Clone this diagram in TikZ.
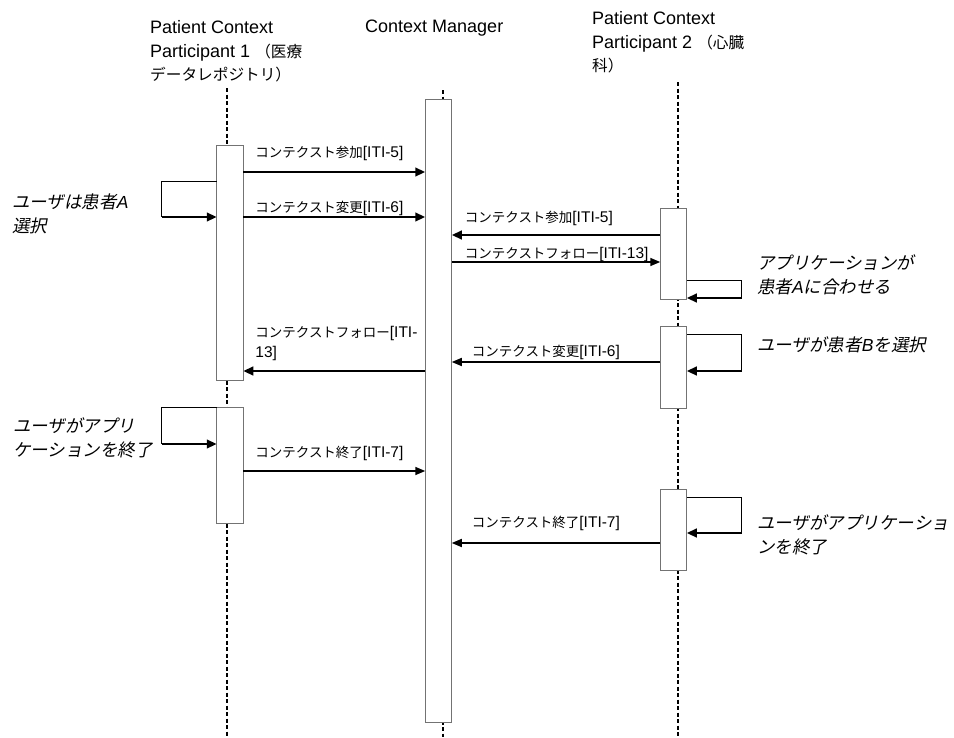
\documentclass[tikz,border=0pt]{standalone}
\usepackage{fontspec}
\setmainfont{Liberation Sans}
\newfontfamily\jp[Scale=0.87]{Noto Sans CJK JP}
\newfontfamily\jpit[FakeSlant=0.2]{Noto Sans CJK JP}
\usetikzlibrary{positioning,calc,arrows.meta}
\tikzset{HEAD/.style={anchor=west,align=left,inner sep=0pt,font=\fontsize{18}{23.5}\selectfont}}
\tikzset{ACT/.style={rectangle,minimum width=26.5pt,inner sep=0pt,outer sep=0pt,draw=black!55,line width=0.9pt,fill=white}}
\tikzset{MSG/.style={anchor=west,align=left,inner sep=0pt,font=\fontsize{15.5}{20}\selectfont}}
\tikzset{NOTE/.style={anchor=west,align=left,inner sep=0pt,font=\fontsize{17.5}{24}\selectfont\itshape}}
\tikzset{LIFE/.style={line width=1.9pt,dash pattern=on 4pt off 2.5pt}}
\tikzset{ARROW/.style={line width=1.6pt,-{Triangle[length=10pt,width=8pt]}}}
\tikzset{BARROW/.style={line width=2.8pt,-{Triangle[length=10pt,width=8.5pt]}}}
\tikzset{LOOP/.style={line width=1pt}}

\begin{document}
\begin{tikzpicture}[x=1pt,y=-1pt]
\useasboundingbox (0,0) rectangle (954,737);

\node[HEAD] (n_p1) at (150,51.5) {Patient Context\\Participant 1 {\jp （医療}\\{\jp データレポジトリ）}};
\node[HEAD] (n_mgr) at (365,28) {Context Manager};
\node[HEAD] (n_p2) at (592,42.5) {Patient Context\\Participant 2 {\jp （心臓}\\{\jp 科）}};

% lifelines
\coordinate (c_p1_top) at (227,88);
\coordinate (c_p1_end) at (c_p1_top |- 0,737);
\draw[LIFE] (c_p1_top) -- (c_p1_end);
\coordinate (c_mgr_top) at (443,90);
\coordinate (c_mgr_end) at (c_mgr_top |- 0,737);
\draw[LIFE] (c_mgr_top) -- (c_mgr_end);
\coordinate (c_p2_top) at (678,82);
\coordinate (c_p2_end) at (c_p2_top |- 0,737);
\draw[LIFE] (c_p2_top) -- (c_p2_end);

\node[ACT,minimum height=235pt] (n_p1_a1) at (230,262.5) {};
\node[ACT,minimum height=116pt] (n_p1_a2) at (230,465) {};
\node[ACT,minimum height=623pt] (n_mgr_a) at (438.5,410.5) {};
\node[ACT,minimum height=91pt] (n_p2_a1) at (673.5,253.5) {};
\node[ACT,minimum height=82pt] (n_p2_a2) at (673.5,367) {};
\node[ACT,minimum height=81pt] (n_p2_a3) at (673.5,529.5) {};

% user selects patient A
\coordinate (c_s0_0) at (n_p1_a1.west |- 0,181);
\coordinate (c_s0_1) at (n_p1_a1.west |- 0,217);
\draw[LOOP] (c_s0_0) -- ++(-55,0) coordinate (c_s0_2) -- (c_s0_2 |- c_s0_1);
\draw[BARROW] (c_s0_2 |- c_s0_1) -- (c_s0_1);
\node[NOTE] (n_note1) at (12,214) {{\jpit ユーザは患者}A\\{\jpit 選択}};

\coordinate (c_0_0) at (n_p1_a1.east |- 0,172);
\coordinate (c_0_1) at (n_mgr_a.west |- c_0_0);
\draw[BARROW] (c_0_0) -- (c_0_1);
\node[MSG] (n_m0) at ($(c_0_0)+(12,-19)$) {{\jp コンテクスト参加}[ITI-5]};

\coordinate (c_1_0) at (n_p1_a1.east |- 0,217);
\coordinate (c_1_1) at (n_mgr_a.west |- c_1_0);
\draw[BARROW] (c_1_0) -- (c_1_1);
\node[MSG] (n_m1) at ($(c_1_0)+(12,-9)$) {{\jp コンテクスト変更}[ITI-6]};

\coordinate (c_2_0) at (n_p2_a1.west |- 0,235);
\coordinate (c_2_1) at (n_mgr_a.east |- c_2_0);
\draw[BARROW] (c_2_0) -- (c_2_1);
\node[MSG] (n_m2) at ($(c_2_1)+(13,-17)$) {{\jp コンテクスト参加}[ITI-5]};

\coordinate (c_3_0) at (n_mgr_a.east |- 0,262);
\coordinate (c_3_1) at (n_p2_a1.west |- c_3_0);
\draw[ARROW] (c_3_0) -- (c_3_1);
\node[MSG] (n_m3) at ($(c_3_0)+(13,-8)$) {{\jp コンテクストフォロー}[ITI-13]};

% application follows patient A
\coordinate (c_s1_0) at (n_p2_a1.east |- 0,280);
\coordinate (c_s1_1) at (n_p2_a1.east |- 0,298);
\draw[LOOP] (c_s1_0) -- ++(55,0) coordinate (c_s1_2) -- (c_s1_2 |- c_s1_1);
\draw[BARROW] (c_s1_2 |- c_s1_1) -- (c_s1_1);
\node[NOTE] (n_note2) at (757,274.5) {{\jpit アプリケーションが}\\{\jpit 患者}A{\jpit に合わせる}};

% user selects patient B
\coordinate (c_s2_0) at (n_p2_a2.east |- 0,334);
\coordinate (c_s2_1) at (n_p2_a2.east |- 0,371);
\draw[LOOP] (c_s2_0) -- ++(55,0) coordinate (c_s2_2) -- (c_s2_2 |- c_s2_1);
\draw[BARROW] (c_s2_2 |- c_s2_1) -- (c_s2_1);
\node[NOTE] (n_note3) at (757,345) {{\jpit ユーザが患者}B{\jpit を選択}};

\coordinate (c_4_0) at (n_p2_a2.west |- 0,362);
\coordinate (c_4_1) at (n_mgr_a.east |- c_4_0);
\draw[ARROW] (c_4_0) -- (c_4_1);
\node[MSG] (n_m4) at ($(c_4_1)+(20,-10)$) {{\jp コンテクスト変更}[ITI-6]};

\coordinate (c_5_0) at (n_mgr_a.west |- 0,371);
\coordinate (c_5_1) at (n_p1_a1.east |- c_5_0);
\draw[BARROW] (c_5_0) -- (c_5_1);
\node[MSG] (n_m5) at ($(c_5_1)+(12,-28)$) {{\jp コンテクストフォロー}[ITI-\\13]};

% user closes application
\coordinate (c_s3_0) at (n_p1_a2.west |- 0,407);
\coordinate (c_s3_1) at (n_p1_a2.west |- 0,444);
\draw[LOOP] (c_s3_0) -- ++(-55,0) coordinate (c_s3_2) -- (c_s3_2 |- c_s3_1);
\draw[BARROW] (c_s3_2 |- c_s3_1) -- (c_s3_1);
\node[NOTE] (n_note4) at (13,438) {{\jpit ユーザがアプリ}\\{\jpit ケーションを終了}};

\coordinate (c_6_0) at (n_p1_a2.east |- 0,471);
\coordinate (c_6_1) at (n_mgr_a.west |- c_6_0);
\draw[ARROW] (c_6_0) -- (c_6_1);
\node[MSG] (n_m6) at ($(c_6_0)+(12,-18)$) {{\jp コンテクスト終了}[ITI-7]};

\coordinate (c_s4_0) at (n_p2_a3.east |- 0,497);
\coordinate (c_s4_1) at (n_p2_a3.east |- 0,533);
\draw[LOOP] (c_s4_0) -- ++(55,0) coordinate (c_s4_2) -- (c_s4_2 |- c_s4_1);
\draw[BARROW] (c_s4_2 |- c_s4_1) -- (c_s4_1);
\node[NOTE] (n_note5) at (757,534.5) {{\jpit ユーザがアプリケーショ}\\{\jpit ンを終了}};

\coordinate (c_7_0) at (n_p2_a3.west |- 0,543);
\coordinate (c_7_1) at (n_mgr_a.east |- c_7_0);
\draw[ARROW] (c_7_0) -- (c_7_1);
\node[MSG] (n_m7) at ($(c_7_1)+(20,-20)$) {{\jp コンテクスト終了}[ITI-7]};

\end{tikzpicture}
\end{document}
